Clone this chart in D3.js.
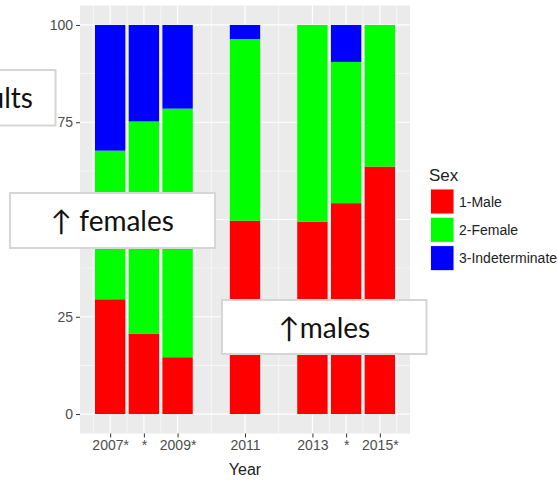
<!DOCTYPE html>
<html><head><meta charset="utf-8">
<script src="https://cdn.jsdelivr.net/npm/d3@7"></script>
<style>body{margin:0;background:#fff}svg{display:block}</style>
</head><body>
<script>
const years = [2007, 2008, 2009, 2011, 2013, 2014, 2015];
const tickLabels = ["2007*", "*", "2009*", "2011", "2013", "*", "2015*"];
const male = [29.5, 20.6, 14.6, 49.7, 49.4, 54.2, 63.6];
const female = [38.2, 54.6, 63.9, 46.7, 50.6, 36.3, 36.4];
const indeterminate = [32.3, 24.8, 21.5, 3.6, 0, 9.5, 0];
const seriesNames = ["1-Male", "2-Female", "3-Indeterminate"];
const seriesColors = ["#FF0000", "#00FF00", "#0000FF"];
const yTicks = [0, 25, 50, 75, 100];
const yMinor = [12.5, 37.5, 62.5, 87.5];
const xMinor = [2006.5, 2007.5, 2008.5, 2010, 2012, 2013.5, 2014.5, 2015.5];
const notes = ["adults", "↑ females", "↑males"];

const W = 558, H = 480;
const svg = d3.select("body").append("svg").attr("width", W).attr("height", H);

const x = d3.scaleLinear().domain([2006.105, 2015.895]).range([80, 410]);
const y = d3.scaleLinear().domain([-5, 105]).range([433.5, 5.5]);
const barW = x(2007.45) - x(2006.55);

// panel
svg.append("rect").attr("x", 80).attr("y", 5.5).attr("width", 330).attr("height", 428).attr("fill", "#ebebeb");
const g = svg.append("g");
g.selectAll(".ymin").data(yMinor).join("line").attr("x1", 80).attr("x2", 410)
  .attr("y1", d => y(d)).attr("y2", d => y(d)).attr("stroke", "#fff").attr("stroke-width", 0.6);
g.selectAll(".xmin").data(xMinor).join("line").attr("y1", 5.5).attr("y2", 433.5)
  .attr("x1", d => x(d)).attr("x2", d => x(d)).attr("stroke", "#fff").attr("stroke-width", 0.6);
g.selectAll(".ymaj").data(yTicks).join("line").attr("x1", 80).attr("x2", 410)
  .attr("y1", d => y(d)).attr("y2", d => y(d)).attr("stroke", "#fff").attr("stroke-width", 1.2);
g.selectAll(".xmaj").data(years).join("line").attr("y1", 5.5).attr("y2", 433.5)
  .attr("x1", d => x(d)).attr("x2", d => x(d)).attr("stroke", "#fff").attr("stroke-width", 1.2);

// bars
const rows = years.map((yr, i) => ({year: yr, "1-Male": male[i], "2-Female": female[i], "3-Indeterminate": indeterminate[i]}));
const stack = d3.stack().keys(seriesNames)(rows);
stack.forEach((s, si) => {
  svg.append("g").selectAll("rect").data(s).join("rect")
    .attr("x", d => x(d.data.year) - barW / 2).attr("width", barW)
    .attr("y", d => y(d[1])).attr("height", d => y(d[0]) - y(d[1]))
    .attr("fill", seriesColors[si]);
});

// axes
const yAxis = d3.axisLeft(y).tickValues(yTicks).tickSize(4).tickPadding(3);
const ya = svg.append("g").attr("transform", "translate(80,0)").call(yAxis);
const xAxis = d3.axisBottom(x).tickValues(years).tickFormat((d, i) => tickLabels[i]).tickSize(4).tickPadding(3);
const xa = svg.append("g").attr("transform", "translate(0,433.5)").call(xAxis);
[ya, xa].forEach(a => {
  a.select(".domain").remove();
  a.selectAll(".tick line").attr("stroke", "#333").attr("stroke-width", 1);
  a.selectAll(".tick text").attr("fill", "#4d4d4d").attr("font-family", "Liberation Sans, Arial, sans-serif").attr("font-size", 14);
});
svg.append("text").attr("x", 245).attr("y", 475).attr("text-anchor", "middle")
  .attr("font-family", "Liberation Sans, Arial, sans-serif").attr("font-size", 16).attr("fill", "#222").text("Year");

// legend
const lg = svg.append("g");
lg.append("text").attr("x", 429).attr("y", 181).attr("font-family", "Liberation Sans, Arial, sans-serif")
  .attr("font-size", 17).attr("fill", "#222").text("Sex");
seriesNames.forEach((n, i) => {
  const yy = 188.5 + i * 28.3;
  lg.append("rect").attr("x", 430).attr("y", yy).attr("width", 24.5).attr("height", 26).attr("fill", "#f2f2f2");
  lg.append("rect").attr("x", 431).attr("y", yy + 1).attr("width", 22.5).attr("height", 24).attr("fill", seriesColors[i]);
  lg.append("text").attr("x", 459).attr("y", yy + 13).attr("dy", "0.36em").attr("font-family", "Liberation Sans, Arial, sans-serif")
    .attr("font-size", 14).attr("fill", "#222").text(n);
});

// overlay note boxes
const noteFont = "Lato, 'Open Sans', sans-serif";
function box(x0, y0, w, h) {
  svg.append("rect").attr("x", x0).attr("y", y0).attr("width", w).attr("height", h)
    .attr("fill", "#fff").attr("stroke", "#d6d6d6").attr("stroke-width", 2);
}
box(-10, 70, 65.5, 55.5);
svg.append("text").attr("x", 33).attr("y", 108).attr("text-anchor", "end").attr("font-family", noteFont)
  .attr("font-size", 28).attr("fill", "#111").text(notes[0]);
box(10, 193, 205, 55);
svg.append("text").attr("x", 112.5).attr("y", 231).attr("text-anchor", "middle").attr("font-family", noteFont)
  .attr("font-size", 28).attr("fill", "#111").text(notes[1]);
box(222, 300, 204.5, 54);
svg.append("text").attr("x", 324.5).attr("y", 338).attr("text-anchor", "middle").attr("font-family", noteFont)
  .attr("font-size", 28).attr("fill", "#111").text(notes[2]);
</script>
</body></html>
